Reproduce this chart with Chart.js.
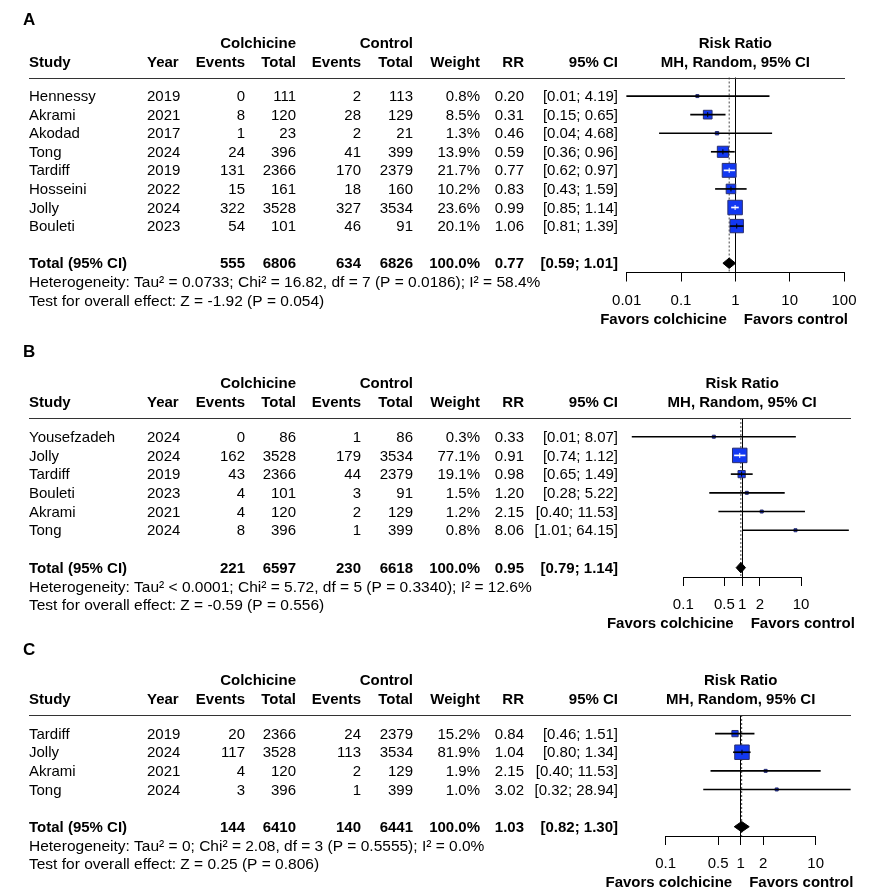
<!DOCTYPE html>
<html>
<head>
<title>Colchicine forest plots</title>
<script src="https://cdn.jsdelivr.net/npm/chart.js"></script>
<style>
body { margin:0; background:#ffffff; }
canvas { position:absolute; left:0; }
</style>
</head>
<body>
<canvas id="pa" width="878" height="335" style="top:0px"></canvas>
<canvas id="pb" width="878" height="305" style="top:335px"></canvas>
<canvas id="pc" width="878" height="255" style="top:640px"></canvas>
<script>
// ---- panel A ----
var aStudy  = ['Hennessy','Akrami','Akodad','Tong','Tardiff','Hosseini','Jolly','Bouleti'];
var aYear   = [2019, 2021, 2017, 2024, 2019, 2022, 2024, 2023];
var aColEv  = [0, 8, 1, 24, 131, 15, 322, 54];
var aColN   = [111, 120, 23, 396, 2366, 161, 3528, 101];
var aCtlEv  = [2, 28, 2, 41, 170, 18, 327, 46];
var aCtlN   = [113, 129, 21, 399, 2379, 160, 3534, 91];
var aWeight = [0.8, 8.5, 1.3, 13.9, 21.7, 10.2, 23.6, 20.1];
var aRR     = [0.20, 0.31, 0.46, 0.59, 0.77, 0.83, 0.99, 1.06];
var aLo     = [0.01, 0.15, 0.04, 0.36, 0.62, 0.43, 0.85, 0.81];
var aHi     = [4.19, 0.65, 4.68, 0.96, 0.97, 1.59, 1.14, 1.39];
var aTotal  = [555, 6806, 634, 6826];
var aPooled = [0.77, 0.59, 1.01];
var aHet    = 'Heterogeneity: Tau² = 0.0733; Chi² = 16.82, df = 7 (P = 0.0186); I² = 58.4%';
var aTest   = 'Test for overall effect: Z = -1.92 (P = 0.054)';
var aTicks  = [0.01, 0.1, 1, 10, 100];

// ---- panel B ----
var bStudy  = ['Yousefzadeh','Jolly','Tardiff','Bouleti','Akrami','Tong'];
var bYear   = [2024, 2024, 2019, 2023, 2021, 2024];
var bColEv  = [0, 162, 43, 4, 4, 8];
var bColN   = [86, 3528, 2366, 101, 120, 396];
var bCtlEv  = [1, 179, 44, 3, 2, 1];
var bCtlN   = [86, 3534, 2379, 91, 129, 399];
var bWeight = [0.3, 77.1, 19.1, 1.5, 1.2, 0.8];
var bRR     = [0.33, 0.91, 0.98, 1.20, 2.15, 8.06];
var bLo     = [0.0135, 0.74, 0.65, 0.28, 0.40, 1.01];
var bHi     = [8.07, 1.12, 1.49, 5.22, 11.53, 64.15];
var bTotal  = [221, 6597, 230, 6618];
var bPooled = [0.95, 0.79, 1.14];
var bHet    = 'Heterogeneity: Tau² < 0.0001; Chi² = 5.72, df = 5 (P = 0.3340); I² = 12.6%';
var bTest   = 'Test for overall effect: Z = -0.59 (P = 0.556)';
var bTicks  = [0.1, 0.5, 1, 2, 10];

// ---- panel C ----
var cStudy  = ['Tardiff','Jolly','Akrami','Tong'];
var cYear   = [2019, 2024, 2021, 2024];
var cColEv  = [20, 117, 4, 3];
var cColN   = [2366, 3528, 120, 396];
var cCtlEv  = [24, 113, 2, 1];
var cCtlN   = [2379, 3534, 129, 399];
var cWeight = [15.2, 81.9, 1.9, 1.0];
var cRR     = [0.84, 1.04, 2.15, 3.02];
var cLo     = [0.46, 0.80, 0.40, 0.32];
var cHi     = [1.51, 1.34, 11.53, 28.94];
var cTotal  = [144, 6410, 140, 6441];
var cPooled = [1.03, 0.82, 1.30];
var cHet    = 'Heterogeneity: Tau² = 0; Chi² = 2.08, df = 3 (P = 0.5555); I² = 0.0%';
var cTest   = 'Test for overall effect: Z = 0.25 (P = 0.806)';
var cTicks  = [0.1, 0.5, 1, 2, 10];

var FONT = '"Liberation Sans", Arial, sans-serif';
var BLUE = '#1238f2';
var EDGE = '#2a2f6e';
// text column anchors (px)
var COL = { study: 29, year: 147, cEv: 245, cN: 296, tEv: 361, tN: 413, w: 480, rr: 524, ci: 618 };

function ciText(lo, hi) { return '[' + lo.toFixed(2) + '; ' + hi.toFixed(2) + ']'; }

function squareSide(w, wmax) { return Math.max(3, 14.5 * Math.sqrt(w / wmax)); }

function tablePlugin(p) {
  return {
    id: 'table',
    afterDraw: function (chart) {
      var ctx = chart.ctx, ys = chart.scales.y, xs = chart.scales.x;
      var n = p.study.length;
      function t(s, x, y, align, bold, size) {
        ctx.font = (bold ? 'bold ' : '') + (size || 15) + 'px ' + FONT;
        ctx.textAlign = align;
        ctx.textBaseline = 'middle';
        ctx.fillStyle = '#000';
        ctx.fillText(s, x, y + 1);
      }
      ctx.save();
      var rule = ys.getPixelForValue(-1);
      // panel letter
      ctx.font = 'bold 17px ' + FONT;
      ctx.textAlign = 'left'; ctx.textBaseline = 'middle'; ctx.fillStyle = '#000';
      ctx.fillText(p.letter, 23, p.letterY);
      // headers
      var h1 = rule - 35, h2 = rule - 16;
      t('Colchicine', COL.cN, h1, 'right', true);
      t('Control', COL.tN, h1, 'right', true);
      var one = xs.getPixelForValue(1);
      t('Risk Ratio', one, h1, 'center', true);
      t('Study', COL.study, h2, 'left', true);
      t('Year', COL.year, h2, 'left', true);
      t('Events', COL.cEv, h2, 'right', true);
      t('Total', COL.cN, h2, 'right', true);
      t('Events', COL.tEv, h2, 'right', true);
      t('Total', COL.tN, h2, 'right', true);
      t('Weight', COL.w, h2, 'right', true);
      t('RR', COL.rr, h2, 'right', true);
      t('95% CI', COL.ci, h2, 'right', true);
      t('MH, Random, 95% CI', one, h2, 'center', true);
      ctx.strokeStyle = '#333'; ctx.lineWidth = 1;
      ctx.beginPath();
      ctx.moveTo(COL.study, Math.round(rule) + 0.5);
      ctx.lineTo(p.ruleRight, Math.round(rule) + 0.5);
      ctx.stroke();
      // study rows
      for (var i = 0; i < n; i++) {
        var y = ys.getPixelForValue(i);
        t(p.study[i], COL.study, y, 'left');
        t(String(p.year[i]), COL.year, y, 'left');
        t(String(p.colEv[i]), COL.cEv, y, 'right');
        t(String(p.colN[i]), COL.cN, y, 'right');
        t(String(p.ctlEv[i]), COL.tEv, y, 'right');
        t(String(p.ctlN[i]), COL.tN, y, 'right');
        t(p.weight[i].toFixed(1) + '%', COL.w, y, 'right');
        t(p.rr[i].toFixed(2), COL.rr, y, 'right');
        t(ciText(p.lo[i], p.hi[i]), COL.ci, y, 'right');
      }
      // total row
      var yt = ys.getPixelForValue(n + 1);
      t('Total (95% CI)', COL.study, yt, 'left', true);
      t(String(p.total[0]), COL.cEv, yt, 'right', true);
      t(String(p.total[1]), COL.cN, yt, 'right', true);
      t(String(p.total[2]), COL.tEv, yt, 'right', true);
      t(String(p.total[3]), COL.tN, yt, 'right', true);
      t('100.0%', COL.w, yt, 'right', true);
      t(p.pooled[0].toFixed(2), COL.rr, yt, 'right', true);
      t(ciText(p.pooled[1], p.pooled[2]), COL.ci, yt, 'right', true);
      t(p.het, COL.study, ys.getPixelForValue(n + 2), 'left', false, 15.5);
      t(p.test, COL.study, ys.getPixelForValue(n + 3), 'left', false, 15.5);
      // favours labels under the axis
      var fy = chart.chartArea.bottom + 46;
      t('Favors colchicine', one - 8.5, fy, 'right', true);
      t('Favors control', one + 8.5, fy, 'left', true);
      ctx.restore();
    }
  };
}

function makePanel(id, p, pad) {
  var n = p.study.length;
  var T = n + 1;
  var wmax = Math.max.apply(null, p.weight);
  var pts = p.rr.map(function (v, i) { return { x: v, y: i }; });
  var ci = p.lo.map(function (v, i) { return { x: [v, p.hi[i]], y: i }; });
  var side = function (i) { return squareSide(p.weight[i], wmax); };
  var inside = function (chart, i) {
    var xs = chart.scales.x;
    return xs.getPixelForValue(p.hi[i]) - xs.getPixelForValue(p.lo[i]) < side(i) - 1;
  };
  var dh = 0.28;
  var diamond = [
    { x: p.pooled[1], y: T }, { x: p.pooled[0], y: T - dh },
    { x: p.pooled[2], y: T }, { x: p.pooled[0], y: T + dh },
    { x: p.pooled[1], y: T }
  ];
  var ticks = p.ticks;
  return new Chart(document.getElementById(id), {
    type: 'scatter',
    data: {
      datasets: [
        { type: 'scatter', data: pts, pointStyle: 'line', rotation: 90, borderWidth: 1, clip: false,
          pointRadius: function (c) { return side(c.dataIndex) >= 7 ? 2.5 : 0; },
          borderColor: function (c) { return inside(c.chart, c.dataIndex) ? '#fff' : '#000'; } },
        { type: 'bar', indexAxis: 'y', data: ci, barThickness: 1, borderWidth: 0, clip: false,
          backgroundColor: function (c) { return inside(c.chart, c.dataIndex) ? '#fff' : '#000'; } },
        { type: 'scatter', data: pts, pointStyle: 'rect', backgroundColor: BLUE, borderColor: EDGE,
          borderWidth: 1, clip: false,
          pointRadius: function (c) { return side(c.dataIndex) / Math.SQRT2; } },
        { type: 'line', data: diamond, fill: 'shape', backgroundColor: '#000', borderColor: '#000',
          borderWidth: 1, pointRadius: 0, tension: 0, clip: false },
        { type: 'line', data: [{ x: p.pooled[0], y: -1 }, { x: p.pooled[0], y: T + 0.5 }],
          borderDash: [2, 2], borderColor: '#444', borderWidth: 1, pointRadius: 0, clip: false }
      ]
    },
    options: {
      responsive: false,
      animation: false,
      events: [],
      layout: { padding: pad },
      plugins: { legend: { display: false }, tooltip: { enabled: false } },
      scales: {
        x: {
          type: 'logarithmic', position: 'bottom', offset: false,
          min: ticks[0], max: ticks[ticks.length - 1],
          afterBuildTicks: function (s) { s.ticks = ticks.map(function (v) { return { value: v }; }); },
          afterFit: function (s) { s.height = 50; },
          border: { display: true, color: '#000', width: 1 },
          grid: {
            drawOnChartArea: true, offset: false, tickLength: 9, tickColor: '#000', lineWidth: 1,
            color: function (c) { return c.tick && c.tick.value === 1 ? '#000' : 'rgba(0,0,0,0)'; }
          },
          ticks: { color: '#000', font: { family: FONT, size: 15 }, padding: 10, maxRotation: 0,
                   autoSkip: false, callback: function (v) { return String(v); } }
        },
        y: { type: 'linear', display: false, reverse: true, offset: false,
             grid: { offset: false }, min: -1, max: T + 0.5 }
      }
    },
    plugins: [tablePlugin(p)]
  });
}

makePanel('pa', {
  letter: 'A', letterY: 20, ruleRight: 845,
  study: aStudy, year: aYear, colEv: aColEv, colN: aColN, ctlEv: aCtlEv, ctlN: aCtlN,
  weight: aWeight, rr: aRR, lo: aLo, hi: aHi, total: aTotal, pooled: aPooled,
  het: aHet, test: aTest, ticks: aTicks
}, { left: 626.7, right: 34, top: 77.5, bottom: 12.5 });

makePanel('pb', {
  letter: 'B', letterY: 17, ruleRight: 851,
  study: bStudy, year: bYear, colEv: bColEv, colN: bColN, ctlEv: bCtlEv, ctlN: bCtlN,
  weight: bWeight, rr: bRR, lo: bLo, hi: bHi, total: bTotal, pooled: bPooled,
  het: bHet, test: bTest, ticks: bTicks
}, { left: 683.3, right: 77, top: 83, bottom: 13 });

makePanel('pc', {
  letter: 'C', letterY: 10, ruleRight: 851,
  study: cStudy, year: cYear, colEv: cColEv, colN: cColN, ctlEv: cCtlEv, ctlN: cCtlN,
  weight: cWeight, rr: cRR, lo: cLo, hi: cHi, total: cTotal, pooled: cPooled,
  het: cHet, test: cTest, ticks: cTicks
}, { left: 665.7, right: 62.3, top: 75, bottom: 9 });
</script>
</body>
</html>
